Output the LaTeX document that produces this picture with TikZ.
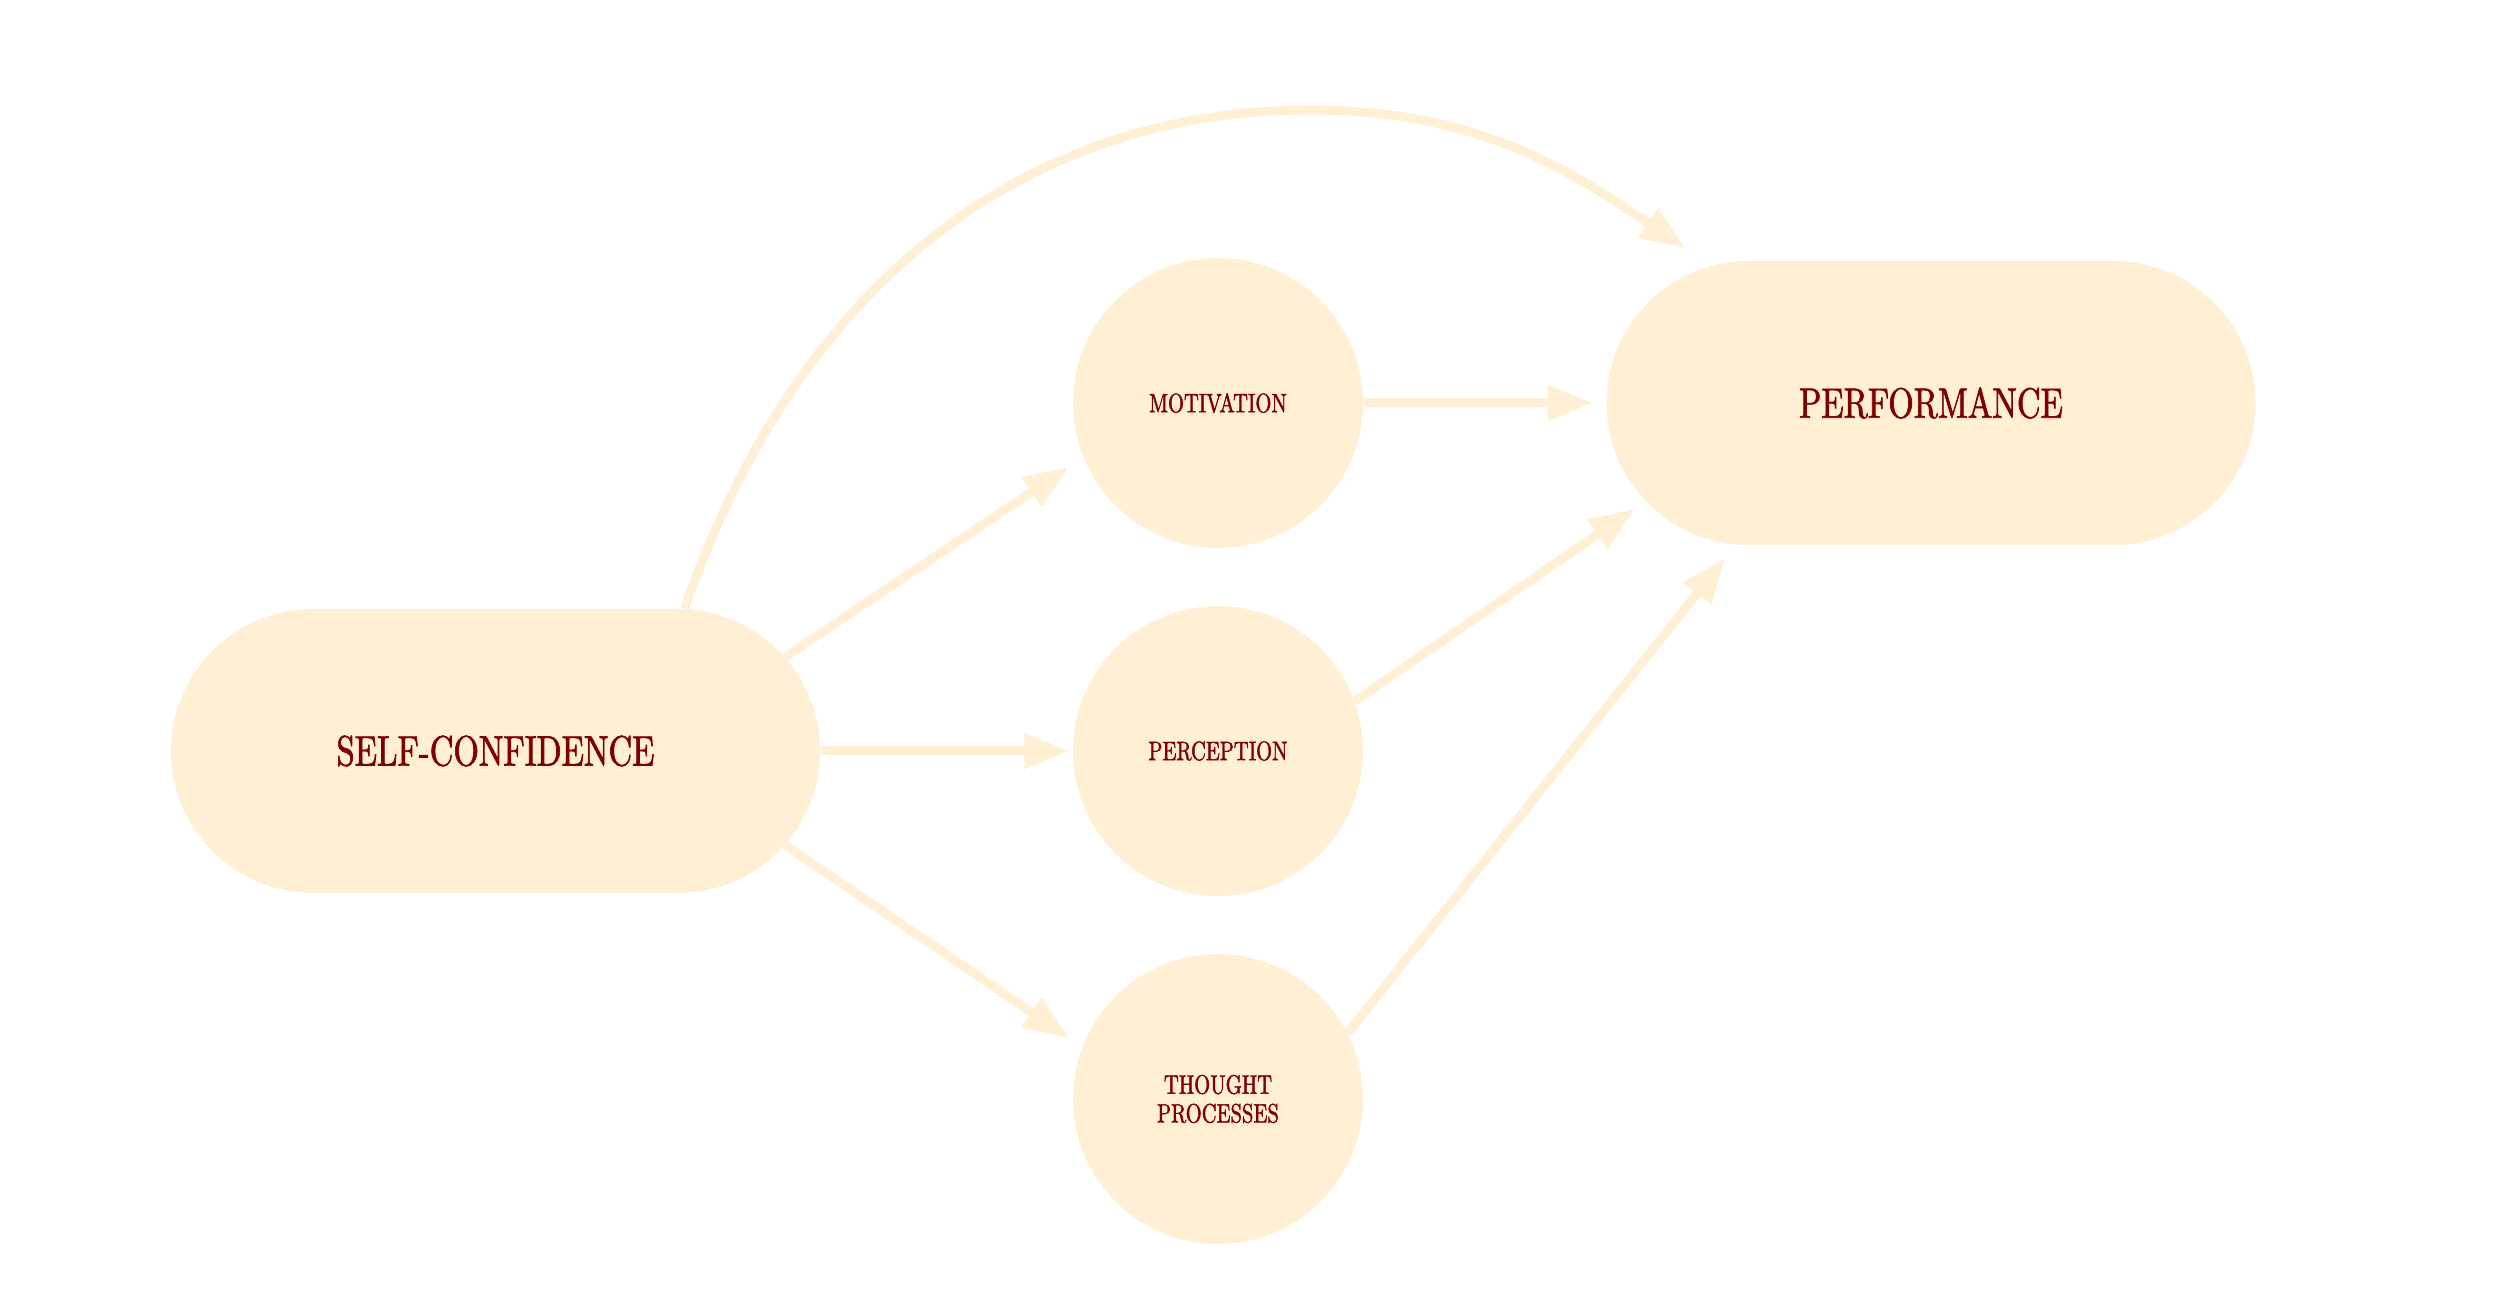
\documentclass[tikz,border=0pt]{standalone}
\usepackage{fontspec}
\newfontfamily\labelfont[FakeStretch=0.77, FakeBold=1.5]{lmroman10-regular.otf}
\usetikzlibrary{arrows.meta,shapes.misc}

\definecolor{cream}{RGB}{255,239,213}
\definecolor{maroon}{RGB}{128,0,0}

\begin{document}
\begin{tikzpicture}[
    pill/.style={rounded rectangle, fill=cream, text=maroon, inner sep=0pt,
        minimum width=6.49cm, minimum height=2.84cm,
        font=\labelfont\fontsize{12.1}{14}\selectfont},
    hub/.style={circle, fill=cream, text=maroon, inner sep=0pt, align=center,
        minimum size=2.90cm, font=\labelfont\fontsize{7.6}{8.2}\selectfont},
    arrow/.style={-{Triangle[length=0.45cm, width=0.34cm]}, line width=0.09cm,
        draw=cream, fill=cream}
]

\useasboundingbox (0,0) rectangle (25,12.99);

\node[pill] (confidence) at (4.955, 5.48) {SELF-CONFIDENCE};
\node[pill] (performance) at (19.31, 8.96) {PERFORMANCE};

\node[hub] (motivation) at (12.18, 8.96) {MOTIVATION};
\node[hub] (perception) at (12.18, 5.48) {PERCEPTION};
\node[hub] (thought) at (12.18, 2.00) {THOUGHT\\PROCESSES};

\coordinate (arctop) at (13.11, 11.89);

\draw[arrow, shorten >=0.17cm] (confidence.18) -- (motivation.202);
\draw[arrow, shorten >=0.03cm] (confidence.east) -- (perception.west);
\draw[arrow, shorten >=0.16cm] (confidence.-18) -- (thought.159);

\draw[arrow, shorten >=0.13cm] (motivation.east) -- (performance.west);
\draw[arrow, shorten >=0.13cm] (perception.20) -- (performance.199);
\draw[arrow, shorten >=0.17cm] (thought.27) -- (performance.216);

\draw[arrow, fill=none, shorten >=0.31cm] (confidence.37.5) to[out=71, in=180] (arctop)
    to[out=0, in=146] (performance.148);

\end{tikzpicture}
\end{document}
